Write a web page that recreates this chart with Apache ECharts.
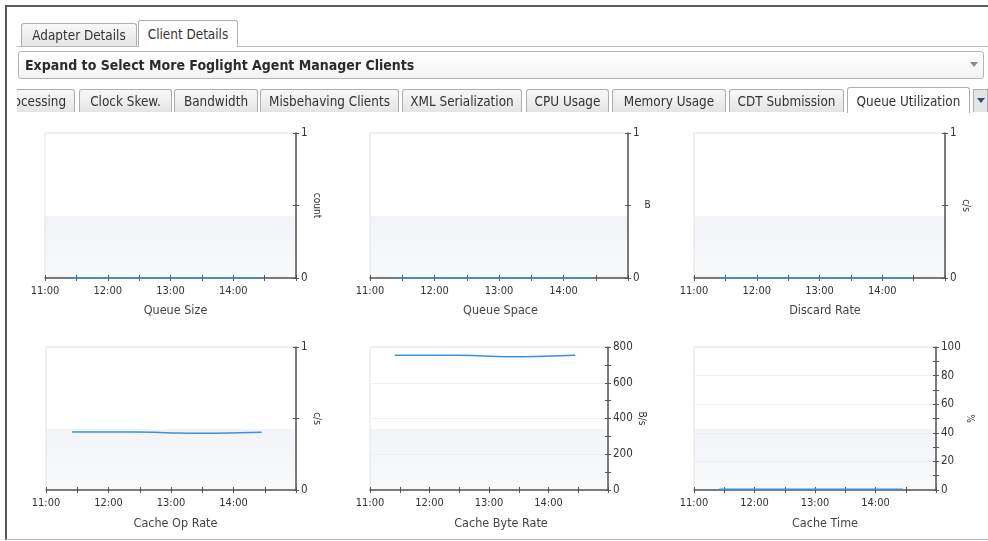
<!DOCTYPE html>
<html>
<head>
<meta charset="utf-8">
<script src="https://cdn.jsdelivr.net/npm/echarts@6/dist/echarts.min.js"></script>
<style>
html,body{margin:0;padding:0;width:988px;height:541px;overflow:hidden;background:#fff;
  font-family:'DejaVu Sans Condensed','DejaVu Sans',sans-serif;font-stretch:condensed;color:#333;}
#chart{position:absolute;left:0;top:0;width:988px;height:541px;z-index:0;}
#frame{position:absolute;left:5px;top:5px;width:983px;height:535px;box-sizing:border-box;
  border-top:2px solid #5a5a5a;border-left:2px solid #5a5a5a;border-bottom:1px solid #b8b8b8;z-index:1;pointer-events:none;}
.ui{position:absolute;z-index:2;}
.tab{position:absolute;box-sizing:border-box;border:1px solid #aeaeae;border-bottom:none;border-radius:3px 3px 0 0;
  background:linear-gradient(#f8f8f8,#e4e4e4);font-size:13.4px;text-align:center;white-space:nowrap;color:#333;}
.tab.active{background:#fff;}
#base1{position:absolute;left:17px;top:46px;width:971px;height:1px;background:#b8b8b8;z-index:2;}
#drop{position:absolute;left:18px;top:51px;width:966px;height:28px;box-sizing:border-box;border:1px solid #b5b5b5;
  border-radius:3px;background:linear-gradient(#ffffff,#f2f2f2);z-index:2;}
#drop .txt{position:absolute;left:6px;top:0;line-height:26px;font-size:14px;font-weight:bold;color:#2b2b2b;white-space:nowrap;}
#drop .arr{position:absolute;left:951px;top:10px;width:0;height:0;border-left:4px solid transparent;border-right:4px solid transparent;border-top:5px solid #8a8a8a;}
#row2{position:absolute;left:17px;top:86px;width:971px;height:28px;overflow:hidden;z-index:2;}
#row2 .tab{top:3px;height:23px;line-height:24px;}
#row2 .tab.active{top:1px;height:26px;line-height:27px;}
#more{position:absolute;left:956px;top:3px;width:15px;height:23px;box-sizing:border-box;border:1px solid #aeaeae;border-bottom:none;background:#e4e4e4;}
#more:after{content:'';position:absolute;left:3px;top:8px;border-left:4px solid transparent;border-right:4px solid transparent;border-top:5px solid #2d4f80;}
</style>
</head>
<body>
<div id="chart"></div>
<div id="frame"></div>
<div id="base1"></div>
<div class="tab ui" style="left:21px;top:23px;width:116px;height:23px;line-height:24px;">Adapter Details</div>
<div class="tab active ui" style="left:138px;top:20px;width:100px;height:27px;line-height:27px;z-index:3;">Client Details</div>
<div id="drop"><span class="txt">Expand to Select More Foglight Agent Manager Clients</span><span class="arr"></span></div>
<div id="row2">
  <div class="tab" style="left:-24px;width:82px;">Processing</div>
  <div class="tab" style="left:62px;width:93px;">Clock Skew.</div>
  <div class="tab" style="left:157px;width:84px;">Bandwidth</div>
  <div class="tab" style="left:243px;width:139px;">Misbehaving Clients</div>
  <div class="tab" style="left:385px;width:120px;">XML Serialization</div>
  <div class="tab" style="left:509px;width:83px;">CPU Usage</div>
  <div class="tab" style="left:595px;width:114px;">Memory Usage</div>
  <div class="tab" style="left:712px;width:115px;">CDT Submission</div>
  <div class="tab active" style="left:830px;width:123px;">Queue Utilization</div>
  <div id="more"></div>
</div>
<script>
// ---- data ----
const sampleTimes   = ['11:25','11:55','12:25','12:55','13:25','13:55','14:27'];
const queueSize     = [0, 0, 0, 0, 0, 0, 0];
const queueSpace    = [0, 0, 0, 0, 0, 0, 0];
const discardRate   = [0, 0, 0, 0, 0, 0, 0];
const cacheOpRate   = [0.405, 0.405, 0.405, 0.401, 0.396, 0.399, 0.404];
const cacheByteRate = [754, 754, 754, 750, 745, 748, 754];
const cacheTime     = [0.5, 0.5, 0.5, 0.5, 0.5, 0.5, 0.5];
const hourTickLabels = ['11:00', '12:00', '13:00', '14:00'];
const panelTitles = ['Queue Size', 'Queue Space', 'Discard Rate', 'Cache Op Rate', 'Cache Byte Rate', 'Cache Time'];
const panelUnits  = ['count', 'B', 'c/s', 'c/s', 'B/s', '%'];
const panelYMax   = [1, 1, 1, 1, 800, 100];
const panelYStep  = [1, 1, 1, 1, 200, 20];
const panelSeries = [queueSize, queueSpace, discardRate, cacheOpRate, cacheByteRate, cacheTime];

// ---- layout (positions / styles only) ----
const panelBoxes = [
  {left: 45,  top: 133, width: 251, height: 145, gap: 14, rot: -90, cx: 175.5, ty: 304},
  {left: 370, top: 133, width: 258, height: 145, gap: 13, rot: 0,   cx: 500.5, ty: 304},
  {left: 694, top: 133, width: 251, height: 145, gap: 14, rot: -90, cx: 825,   ty: 304},
  {left: 46,  top: 347, width: 250, height: 143, gap: 15, rot: -90, cx: 175.5, ty: 517},
  {left: 370, top: 347, width: 238, height: 143, gap: 26, rot: -90, cx: 501,   ty: 517},
  {left: 694, top: 347, width: 242, height: 143, gap: 28, rot: -90, cx: 825,   ty: 517}
];
const FONT = "'DejaVu Sans Condensed', 'DejaVu Sans', sans-serif";
const AX = '#555555';
const LINE = '#3a8ee6';

function toHours(t) { const p = t.split(':'); return +p[0] + (+p[1]) / 60; }
function hourLabel(v) {
  if (Math.abs(v - Math.round(v)) < 1e-9) { return hourTickLabels[Math.round(v) - 11] || ''; }
  return '';
}

const chart = echarts.init(document.getElementById('chart'), null, {renderer: 'canvas'});
const grid = [], xAxis = [], yAxis = [], series = [], title = [];

panelBoxes.forEach((b, i) => {
  grid.push({
    left: b.left, top: b.top, width: b.width, height: b.height,
    outerBoundsMode: 'none', containLabel: false,
    show: true, borderColor: '#e2e2e2', borderWidth: 1,
    backgroundColor: new echarts.graphic.LinearGradient(0, 0, 0, 1, [
      {offset: 0, color: '#ffffff'}, {offset: 0.571, color: '#ffffff'},
      {offset: 0.572, color: '#f3f4f7'}, {offset: 1, color: '#f8f9fb'}
    ])
  });
  const xb = {type: 'value', gridIndex: i, min: 11, max: 15, interval: 0.5, position: 'bottom', splitLine: {show: false}};
  xAxis.push(Object.assign({}, xb, {
    axisLine: {show: true, lineStyle: {color: AX, width: 1.5}},
    axisTick: {show: true, inside: false, length: 3, lineStyle: {color: AX, width: 1}},
    axisLabel: {show: true, margin: 8, formatter: hourLabel, color: '#333', fontSize: 11, fontFamily: FONT}
  }));
  xAxis.push(Object.assign({}, xb, {
    axisLine: {show: false},
    axisTick: {show: true, inside: true, length: 3, lineStyle: {color: AX, width: 1}},
    axisLabel: {show: false}
  }));
  const yb = {type: 'value', gridIndex: i, min: 0, max: panelYMax[i], interval: panelYStep[i], position: 'right'};
  yAxis.push(Object.assign({}, yb, {
    name: panelUnits[i], nameLocation: 'middle', nameGap: b.gap, nameRotate: b.rot,
    nameTextStyle: {color: '#333', fontSize: 10, fontFamily: FONT},
    axisLine: {show: true, lineStyle: {color: AX, width: 1.5}},
    axisTick: {show: true, inside: false, length: 3, lineStyle: {color: AX, width: 1}},
    minorTick: {show: true, splitNumber: 2, length: 3, lineStyle: {color: AX, width: 1}},
    axisLabel: {show: true, margin: 5, color: '#333', fontSize: 11.5, fontFamily: FONT},
    splitLine: {show: true, lineStyle: {color: '#eceef2', width: 1}}
  }));
  yAxis.push(Object.assign({}, yb, {
    axisLine: {show: false},
    axisTick: {show: true, inside: true, length: 3, lineStyle: {color: AX, width: 1}},
    minorTick: {show: true, splitNumber: 2, length: 3, lineStyle: {color: AX, width: 1}},
    axisLabel: {show: false},
    splitLine: {show: false}
  }));
  series.push({
    type: 'line', xAxisIndex: 2 * i, yAxisIndex: 2 * i, smooth: true, showSymbol: false,
    lineStyle: {color: LINE, width: 1.5}, itemStyle: {color: LINE}, z: 5,
    data: sampleTimes.map((t, k) => [toHours(t), panelSeries[i][k]])
  });
  title.push({
    text: panelTitles[i], left: b.cx, top: b.ty, textAlign: 'center', padding: 0,
    textStyle: {color: '#444', fontSize: 12.5, fontWeight: 'normal', fontFamily: FONT}
  });
});

chart.setOption({
  animation: false,
  backgroundColor: 'transparent',
  title, grid, xAxis, yAxis, series,
  tooltip: {show: false}
});
</script>
</body>
</html>
